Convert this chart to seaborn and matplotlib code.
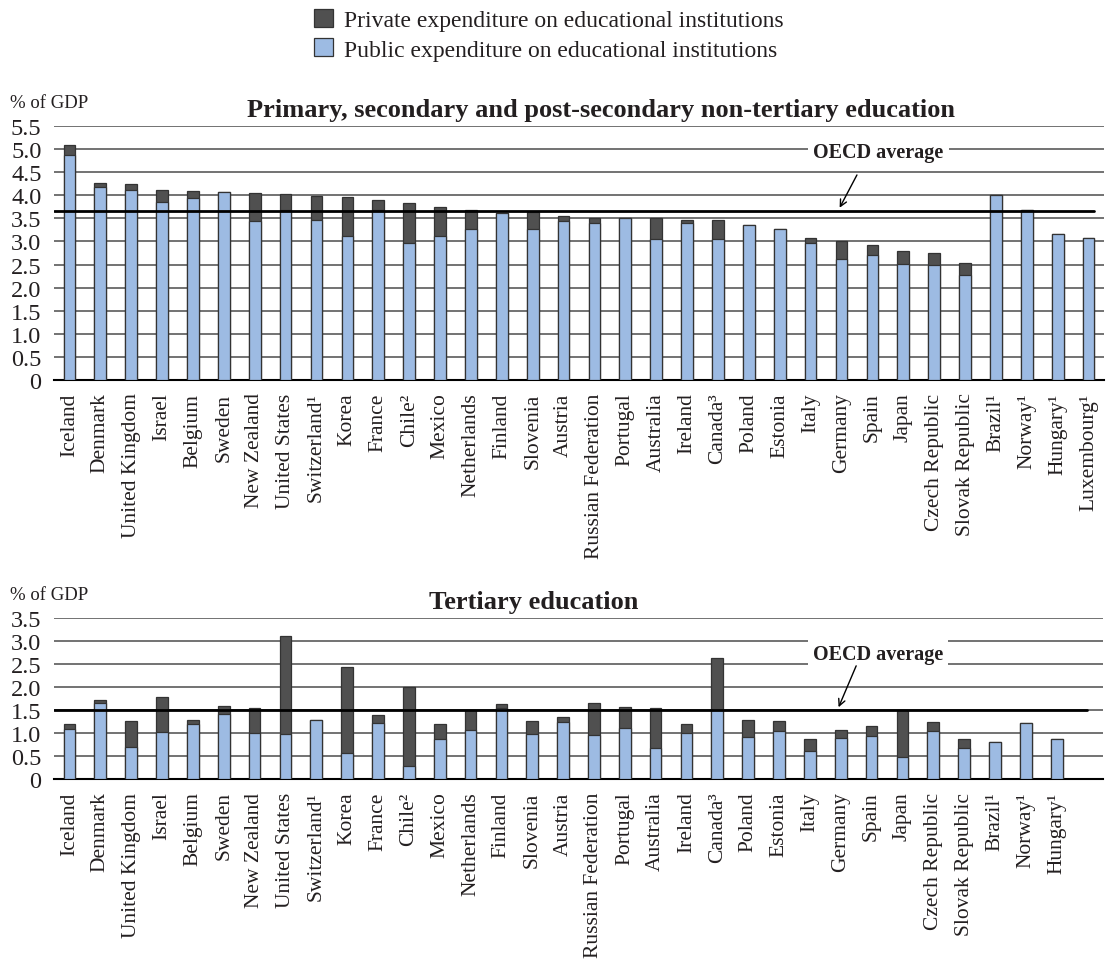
import numpy as np
import pandas as pd
import matplotlib.pyplot as plt
import seaborn as sns
from matplotlib.patches import Patch

# Countries (top panel order)
countries = ["Iceland", "Denmark", "United Kingdom", "Israel", "Belgium", "Sweden",
             "New Zealand", "United States", "Switzerland¹", "Korea", "France", "Chile²",
             "Mexico", "Netherlands", "Finland", "Slovenia", "Austria", "Russian Federation",
             "Portugal", "Australia", "Ireland", "Canada³", "Poland", "Estonia", "Italy",
             "Germany", "Spain", "Japan", "Czech Republic", "Slovak Republic", "Brazil¹",
             "Norway¹", "Hungary¹", "Luxembourg¹"]

# Primary, secondary and post-secondary non-tertiary (% of GDP)
prim_public = [4.88, 4.18, 4.11, 3.86, 3.94, 4.07, 3.45, 3.68, 3.47, 3.12, 3.68, 2.96,
               3.12, 3.26, 3.62, 3.26, 3.44, 3.40, 3.50, 3.05, 3.39, 3.05, 3.36, 3.26,
               2.97, 2.61, 2.71, 2.51, 2.49, 2.27, 4.00, 3.69, 3.17, 3.08]
prim_private = [0.21, 0.08, 0.14, 0.26, 0.16, 0.00, 0.59, 0.35, 0.51, 0.85, 0.22, 0.88,
                0.63, 0.42, 0.00, 0.37, 0.11, 0.11, 0.00, 0.46, 0.08, 0.42, 0.00, 0.00,
                0.11, 0.39, 0.21, 0.29, 0.26, 0.27, 0.00, 0.00, 0.00, 0.00]
prim_oecd = 3.65

# Tertiary (% of GDP), no Luxembourg
tert_countries = countries[:-1]
tert_public = [1.08, 1.65, 0.70, 1.02, 1.20, 1.41, 1.01, 0.98, 1.28, 0.57, 1.22, 0.29,
               0.86, 1.07, 1.55, 0.98, 1.25, 0.96, 1.10, 0.68, 1.01, 1.50, 0.91, 1.05,
               0.61, 0.90, 0.93, 0.47, 1.04, 0.67, 0.80, 1.21, 0.87]
tert_private = [0.11, 0.06, 0.57, 0.77, 0.08, 0.17, 0.54, 2.13, 0.00, 1.87, 0.17, 1.70,
                0.33, 0.43, 0.08, 0.28, 0.10, 0.69, 0.46, 0.87, 0.18, 1.12, 0.37, 0.22,
                0.27, 0.17, 0.22, 1.02, 0.20, 0.20, 0.00, 0.00, 0.00]
tert_oecd = 1.51

DARK = "#505050"
LIGHT = "#9dbbe3"
EDGE = "#333333"
TXT = "#231f20"

sns.set_style("white")
plt.rcParams['font.family'] = ['Liberation Serif', 'DejaVu Serif']
plt.rcParams['text.color'] = TXT


def panel(ax, names, public, private, oecd, ymax, title, title_x, title_y, lab_y, arrow):
    df = pd.DataFrame({"country": names, "public": public, "private": private})
    df["total"] = df["public"] + df["private"]
    sns.barplot(data=df, x="country", y="total", color=DARK, saturation=1, width=0.38,
                edgecolor=EDGE, linewidth=0.9, errorbar=None, ax=ax, zorder=3)
    sns.barplot(data=df, x="country", y="public", color=LIGHT, saturation=1, width=0.38,
                edgecolor=EDGE, linewidth=0.9, errorbar=None, ax=ax, zorder=3)
    ax.set_xlim(-0.5, 33.5)
    ax.set_ylim(0, ymax)
    ticks = np.arange(0, ymax + 0.01, 0.5)
    ax.set_yticks(ticks)
    ax.set_yticklabels(["0"] + [f"{t:.1f}" for t in ticks[1:]])
    ax.yaxis.grid(True, color="#5a5a5a", lw=1.2)
    ax.set_axisbelow(True)
    for s in ["left", "right", "top"]:
        ax.spines[s].set_visible(False)
    ax.spines["bottom"].set_color("black")
    ax.spines["bottom"].set_linewidth(1.5)
    ax.tick_params(axis="y", length=0, pad=9, labelsize=17.5, labelcolor=TXT)
    ax.tick_params(axis="x", length=0, pad=9, labelsize=15.5, labelrotation=90, labelcolor=TXT)
    ax.set_xlabel("")
    ax.set_ylabel("")
    ax.axhline(oecd, xmin=0, xmax=arrow[4], color="black", lw=2, zorder=5)
    ax.text(26.2, lab_y, "OECD average", ha="center", va="center", fontsize=14.5,
            fontweight="bold", zorder=6,
            bbox=dict(boxstyle="square,pad=0.25", fc="white", ec="none"))
    ax.annotate("", xy=(arrow[2], arrow[3]), xytext=(arrow[0], arrow[1]),
                arrowprops=dict(arrowstyle="->", color="black", lw=1.0,
                                mutation_scale=12, shrinkA=0, shrinkB=0), zorder=6)
    fig.text(title_x, title_y, title, ha="center", va="center", fontsize=19,
             fontweight="bold")


fig = plt.figure(figsize=(11.1, 9.62), dpi=100)
ax1 = fig.add_axes([54 / 1110, 1 - 381 / 962, 1050 / 1110, 254 / 962])
ax2 = fig.add_axes([54 / 1110, 1 - 780 / 962, 1049 / 1110, 161 / 962])

panel(ax1, countries, prim_public, prim_private, prim_oecd, 5.5,
      "Primary, secondary and post-secondary non-tertiary education",
      601 / 1110, 1 - 110 / 962, 4.93, (25.5, 4.44, 24.94, 3.73, 0.99))
panel(ax2, tert_countries, tert_public, tert_private, tert_oecd, 3.5,
      "Tertiary education", 534 / 1110, 1 - 603 / 962, 2.72,
      (25.5, 2.46, 24.93, 1.56, 0.985))

fig.text(10 / 1110, 1 - 104 / 962, "% of GDP", fontsize=13.5, va="center", ha="left")
fig.text(10 / 1110, 1 - 596 / 962, "% of GDP", fontsize=13.5, va="center", ha="left")

handles = [Patch(facecolor=DARK, edgecolor=EDGE, lw=0.9),
           Patch(facecolor=LIGHT, edgecolor=EDGE, lw=0.9)]
fig.legend(handles, ["Private expenditure on educational institutions",
                     "Public expenditure on educational institutions"],
           loc="upper left", bbox_to_anchor=(314 / 1110, 1 - 10 / 962), frameon=False,
           fontsize=17, handlelength=0.8, handleheight=0.8, handletextpad=0.45,
           labelspacing=0.3, borderpad=0, borderaxespad=0)

fig.savefig("out.png", dpi=100)
